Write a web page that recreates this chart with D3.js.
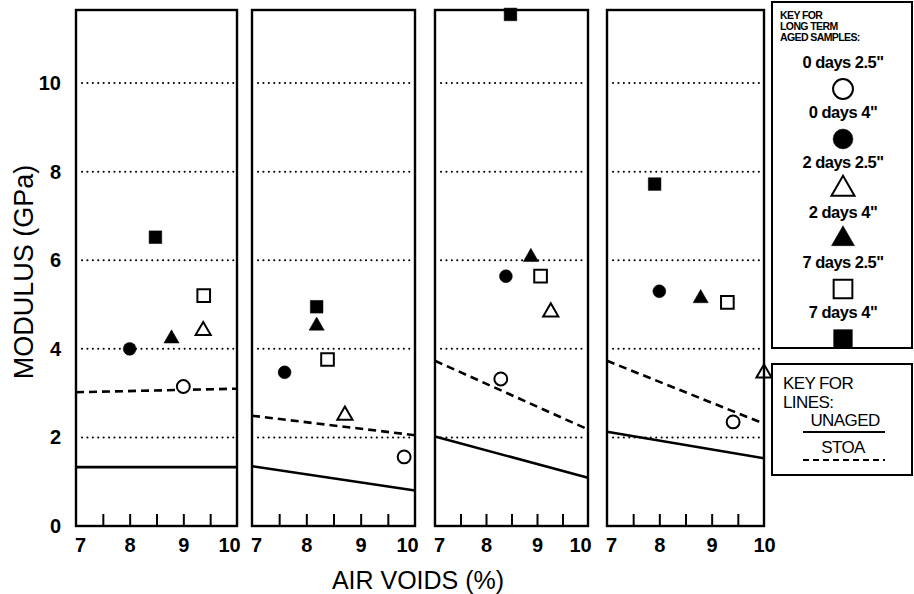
<!DOCTYPE html>
<html>
<head>
<meta charset="utf-8">
<script src="https://cdn.jsdelivr.net/npm/d3@7"></script>
<style>
  body { margin: 0; background: #fff; }
  svg text { font-family: "Liberation Sans", Arial, Helvetica, sans-serif; fill: #000; }
</style>
</head>
<body>
<svg id="chart" width="914" height="594"></svg>
<script>
// tick labels
var voidLabels = [7, 8, 9, 10];
var voidMinor = [7.5, 8, 8.5, 9, 9.5];
var modulusTicks = [0, 2, 4, 6, 8, 10];

// long term aged samples, one [air voids, modulus] pair per panel
var days0_25 = [[9.0, 3.15], [9.8, 1.56], [8.29, 3.32], [9.41, 2.35]];
var days0_4  = [[8.0, 4.0], [7.6, 3.47], [8.39, 5.64], [8.0, 5.3]];
var days2_25 = [[9.37, 4.41], [8.71, 2.5], [9.27, 4.83], [10.0, 3.45]];
var days2_4  = [[8.78, 4.23], [8.19, 4.52], [8.88, 6.07], [8.79, 5.14]];
var days7_25 = [[9.38, 5.2], [8.39, 3.76], [9.07, 5.64], [9.3, 5.05]];
var days7_4  = [[8.48, 6.52], [8.19, 4.95], [8.48, 11.55], [7.91, 7.72]];

// regression lines: modulus at 7% and at 10% air voids, per panel
var unagedLine = [[1.33, 1.33], [1.35, 0.8], [2.02, 1.09], [2.13, 1.53]];
var stoaLine   = [[3.02, 3.1], [2.49, 2.05], [3.73, 2.18], [3.73, 2.31]];

var series = [
  { label: '0 days 2.5"', data: days0_25, shape: d3.symbolCircle, filled: false },
  { label: '0 days 4"',   data: days0_4,  shape: d3.symbolCircle, filled: true },
  { label: '2 days 2.5"', data: days2_25, shape: d3.symbolTriangle, filled: false },
  { label: '2 days 4"',   data: days2_4,  shape: d3.symbolTriangle, filled: true },
  { label: '7 days 2.5"', data: days7_25, shape: d3.symbolSquare, filled: false },
  { label: '7 days 4"',   data: days7_4,  shape: d3.symbolSquare, filled: true }
];

// panel geometry (the four panels are not quite equal in the original)
var panelX = [[76, 237], [252, 415], [435, 588], [607, 764]];
var plotTop = 10, plotBottom = 526;

var svg = d3.select('#chart');

var y = d3.scaleLinear().domain([0, 11.65]).range([plotBottom, plotTop]);

function plotSize(shape, big) {
  if (shape === d3.symbolCircle) return big ? 310 : 130;
  if (shape === d3.symbolTriangle) return big ? 230 : 100;
  return big ? 350 : 160;
}

panelX.forEach(function(px, i) {
  var x = d3.scaleLinear().domain([7, 10]).range(px);
  var g = svg.append('g');

  // dotted grid
  g.selectAll('line.grid')
    .data(modulusTicks.filter(function(d) { return d > 0; }))
    .enter().append('line')
      .attr('class', 'grid')
      .attr('x1', px[0] + 6).attr('x2', px[1] - 3)
      .attr('y1', function(d) { return y(d); })
      .attr('y2', function(d) { return y(d); })
      .attr('stroke', '#000')
      .attr('stroke-width', 2)
      .attr('stroke-linecap', 'round')
      .attr('stroke-dasharray', '0.1,5.3');

  // lines
  var line = d3.line()
    .x(function(d) { return x(d[0]); })
    .y(function(d) { return y(d[1]); });
  g.append('path')
    .attr('d', line([[7, unagedLine[i][0]], [10, unagedLine[i][1]]]))
    .attr('fill', 'none').attr('stroke', '#000').attr('stroke-width', 2.6);
  g.append('path')
    .attr('d', line([[7, stoaLine[i][0]], [10, stoaLine[i][1]]]))
    .attr('fill', 'none').attr('stroke', '#000').attr('stroke-width', 2.6)
    .attr('stroke-dasharray', '8,5');

  // points
  series.forEach(function(s) {
    var p = s.data[i];
    g.append('path')
      .attr('transform', 'translate(' + x(p[0]) + ',' + y(p[1]) + ')')
      .attr('d', d3.symbol().type(s.shape).size(plotSize(s.shape, false))())
      .attr('fill', s.filled ? '#000' : '#fff')
      .attr('stroke', '#000')
      .attr('stroke-width', s.filled ? 0.5 : 2);
  });

  // frame
  g.append('rect')
    .attr('x', px[0]).attr('y', plotTop)
    .attr('width', px[1] - px[0]).attr('height', plotBottom - plotTop)
    .attr('fill', 'none').attr('stroke', '#000').attr('stroke-width', 2.4);

  // inward ticks
  var ticks = g.append('g')
    .attr('transform', 'translate(0,' + plotBottom + ')')
    .call(d3.axisTop(x).tickValues(voidMinor).tickSize(12).tickFormat(''));
  ticks.select('.domain').remove();
  ticks.selectAll('line').attr('stroke-width', 2);

  // labels
  var labels = g.append('g')
    .attr('transform', 'translate(0,' + (plotBottom + 9) + ')')
    .call(d3.axisBottom(x).tickValues(voidLabels).tickSize(0).tickFormat(d3.format('d')));
  labels.select('.domain').remove();
  labels.selectAll('text')
    .style('font-size', '20px').style('font-weight', 'bold')
    .attr('dx', function(d) { return d === 7 ? 4 : (d === 10 && i < 3 ? -8 : 0); });

  if (i === 0) {
    var yAxis = g.append('g')
      .attr('transform', 'translate(' + (px[0] - 12) + ',0)')
      .call(d3.axisLeft(y).tickValues(modulusTicks).tickSize(0));
    yAxis.select('.domain').remove();
    yAxis.selectAll('text').style('font-size', '20px').style('font-weight', 'bold');
  }
});

// axis titles
svg.append('text')
  .attr('x', 418).attr('y', 589)
  .attr('text-anchor', 'middle')
  .style('font-size', '25px')
  .text('AIR VOIDS (%)');
svg.append('text')
  .attr('transform', 'translate(33,272) rotate(-90)')
  .attr('text-anchor', 'middle')
  .style('font-size', '27px')
  .text('MODULUS (GPa)');

// key for samples
var key = svg.append('g');
key.append('rect')
  .attr('x', 772).attr('y', 2).attr('width', 140).attr('height', 346)
  .attr('fill', '#fff').attr('stroke', '#000').attr('stroke-width', 2);
['KEY FOR', 'LONG TERM', 'AGED SAMPLES:'].forEach(function(t, j) {
  key.append('text')
    .attr('x', 780).attr('y', 19 + j * 11)
    .style('font-size', '10.5px').style('font-weight', 'bold')
    .style('letter-spacing', '-0.6px')
    .text(t);
});
series.forEach(function(s, j) {
  key.append('text')
    .attr('x', 843).attr('y', 68 + j * 50)
    .attr('text-anchor', 'middle')
    .style('font-size', '16.5px').style('font-weight', 'bold')
    .style('letter-spacing', '-0.5px')
    .text(s.label);
  key.append('path')
    .attr('transform', 'translate(843,' + (89 + j * 50) + ')')
    .attr('d', d3.symbol().type(s.shape).size(plotSize(s.shape, true))())
    .attr('fill', s.filled ? '#000' : '#fff')
    .attr('stroke', '#000')
    .attr('stroke-width', s.filled ? 0.5 : 2);
});

// key for lines
var lineKey = svg.append('g');
lineKey.append('rect')
  .attr('x', 772).attr('y', 364).attr('width', 140).attr('height', 111)
  .attr('fill', '#fff').attr('stroke', '#000').attr('stroke-width', 2);
lineKey.append('text').attr('x', 783).attr('y', 389)
  .style('font-size', '17px').style('letter-spacing', '-0.6px').text('KEY FOR');
lineKey.append('text').attr('x', 783).attr('y', 408)
  .style('font-size', '17px').style('letter-spacing', '-0.6px').text('LINES:');
lineKey.append('text').attr('x', 845).attr('y', 426).attr('text-anchor', 'middle')
  .style('font-size', '17px').style('letter-spacing', '-0.6px').text('UNAGED');
lineKey.append('line').attr('x1', 803).attr('x2', 885).attr('y1', 432).attr('y2', 432)
  .attr('stroke', '#000').attr('stroke-width', 2);
lineKey.append('text').attr('x', 843).attr('y', 453).attr('text-anchor', 'middle')
  .style('font-size', '17px').style('letter-spacing', '-0.6px').text('STOA');
lineKey.append('line').attr('x1', 803).attr('x2', 885).attr('y1', 460).attr('y2', 460)
  .attr('stroke', '#000').attr('stroke-width', 2).attr('stroke-dasharray', '6,4');
</script>
</body>
</html>
